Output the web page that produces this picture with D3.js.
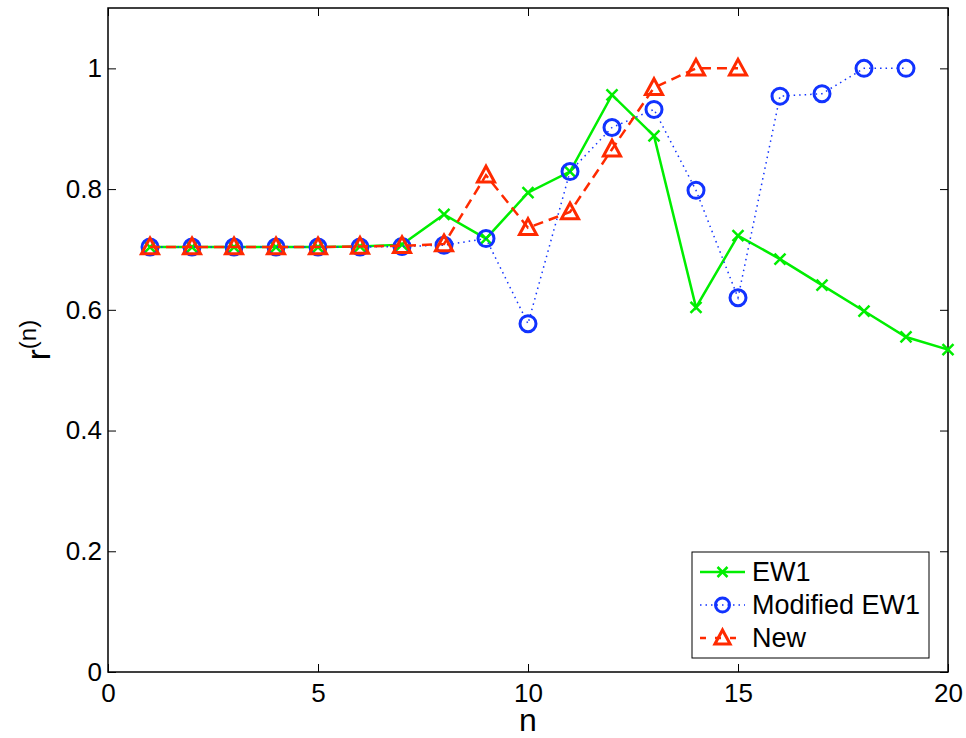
<!DOCTYPE html>
<html>
<head>
<meta charset="utf-8">
<script src="https://cdn.jsdelivr.net/npm/d3@7"></script>
<style>
  body { margin: 0; background: #fff; }
  text { font-family: "Liberation Sans", Arial, Helvetica, sans-serif; fill: #000; }
</style>
</head>
<body>
<svg id="chart" width="966" height="738"></svg>
<script>
// ---- data ----
const nEW1 = [1,2,3,4,5,6,7,8,9,10,11,12,13,14,15,16,17,18,19,20];
const valEW1 = [0.704,0.704,0.704,0.704,0.704,0.705,0.708,0.758,0.718,0.794,0.829,0.956,0.888,0.604,0.723,0.684,0.641,0.598,0.555,0.534];
const nMod = [1,2,3,4,5,6,7,8,9,10,11,12,13,14,15,16,17,18,19];
const valMod = [0.704,0.704,0.704,0.704,0.704,0.704,0.705,0.707,0.718,0.577,0.829,0.902,0.932,0.798,0.620,0.954,0.958,1.0,1.0];
const nNew = [1,2,3,4,5,6,7,8,9,10,11,12,13,14,15];
const valNew = [0.704,0.704,0.704,0.704,0.704,0.705,0.706,0.709,0.823,0.736,0.762,0.866,0.968,1.0,1.0];
const seriesNames = ["EW1", "Modified EW1", "New"];
const xTicks = [0,5,10,15,20];
const yTicks = [0,0.2,0.4,0.6,0.8,1];
const xLabel = "n";

// ---- layout ----
const svg = d3.select("#chart");
const L = 108, R = 948, T = 8, B = 672;
const x = d3.scaleLinear().domain([0,20]).range([L,R]);
const y = d3.scaleLinear().domain([0,1.1]).range([B,T]);

svg.append("rect").attr("width",966).attr("height",738).attr("fill","#fff");

const colors = {EW1:"#00ee00", Mod:"#1133ff", New:"#ff2a00"};

// axes (MATLAB-style inward ticks, box)
const tickLen = 8;
const fmtY = d => d === 0 ? "0" : (d === 1 ? "1" : d3.format(".1f")(d));
svg.append("g").attr("transform",`translate(0,${B})`)
  .call(d3.axisBottom(x).tickValues(xTicks).tickSize(-tickLen).tickPadding(12).tickFormat(d3.format("d")))
  .call(g => { g.select(".domain").remove(); g.selectAll("line").attr("stroke","#000"); g.selectAll("text").attr("font-size",26).attr("font-family","Liberation Sans, Arial, sans-serif"); });
svg.append("g").attr("transform",`translate(0,${T})`)
  .call(d3.axisTop(x).tickValues(xTicks).tickSize(-tickLen).tickFormat(""))
  .call(g => { g.select(".domain").remove(); g.selectAll("line").attr("stroke","#000"); });
svg.append("g").attr("transform",`translate(${L},0)`)
  .call(d3.axisLeft(y).tickValues(yTicks).tickSize(-tickLen).tickPadding(6).tickFormat(fmtY))
  .call(g => { g.select(".domain").remove(); g.selectAll("line").attr("stroke","#000"); g.selectAll("text").attr("font-size",26).attr("font-family","Liberation Sans, Arial, sans-serif"); });
svg.append("g").attr("transform",`translate(${R},0)`)
  .call(d3.axisRight(y).tickValues(yTicks).tickSize(-tickLen).tickFormat(""))
  .call(g => { g.select(".domain").remove(); g.selectAll("line").attr("stroke","#000"); });
svg.append("rect").attr("x",L).attr("y",T).attr("width",R-L).attr("height",B-T)
  .attr("fill","none").attr("stroke","#000").attr("stroke-width",1.5);

// axis labels
svg.append("text").attr("x",(L+R)/2).attr("y",731).attr("text-anchor","middle")
  .attr("font-size",32).text(xLabel);
const yl = svg.append("text").attr("transform","translate(50,340) rotate(-90)").attr("text-anchor","middle").attr("font-size",33);
yl.append("tspan").text("r");
yl.append("tspan").attr("font-size",24).attr("dy",-14).text("(n)");

// ---- series ----
const line = d3.line().x(d => x(d[0])).y(d => y(d[1]));
const dEW1 = nEW1.map((n,i)=>[n,valEW1[i]]);
const dMod = nMod.map((n,i)=>[n,valMod[i]]);
const dNew = nNew.map((n,i)=>[n,valNew[i]]);

function drawX(g, cx, cy, s, col) {
  g.append("path").attr("d",`M${cx-s},${cy-s}L${cx+s},${cy+s}M${cx-s},${cy+s}L${cx+s},${cy-s}`)
    .attr("stroke",col).attr("stroke-width",2.5).attr("fill","none");
}
function drawCircle(g, cx, cy, r, col) {
  g.append("circle").attr("cx",cx).attr("cy",cy).attr("r",r)
    .attr("stroke",col).attr("stroke-width",3).attr("fill","none");
}
function drawTri(g, cx, cy, s, col) {
  g.append("path").attr("d",`M${cx},${cy-s}L${cx+s*0.95},${cy+s*0.75}L${cx-s*0.95},${cy+s*0.75}Z`)
    .attr("stroke",col).attr("stroke-width",3).attr("fill","none").attr("stroke-linejoin","miter");
}

const gEW1 = svg.append("g"), gMod = svg.append("g"), gNew = svg.append("g");
gEW1.append("path").datum(dEW1).attr("d",line).attr("fill","none").attr("stroke",colors.EW1).attr("stroke-width",2.5);
gMod.append("path").datum(dMod).attr("d",line).attr("fill","none").attr("stroke",colors.Mod).attr("stroke-width",1.5).attr("stroke-dasharray","1.5,4");
gNew.append("path").datum(dNew).attr("d",line).attr("fill","none").attr("stroke",colors.New).attr("stroke-width",2.5).attr("stroke-dasharray","10,6");

dEW1.forEach(d => drawX(gEW1, x(d[0]), y(d[1]), 5.5, colors.EW1));
dMod.forEach(d => drawCircle(gMod, x(d[0]), y(d[1]), 8, colors.Mod));
dNew.forEach(d => drawTri(gNew, x(d[0]), y(d[1]), 9, colors.New));

// ---- legend ----
const lg = svg.append("g");
lg.append("rect").attr("x",692).attr("y",552).attr("width",237).attr("height",106)
  .attr("fill","#fff").attr("stroke","#000").attr("stroke-width",1);
const rows = [572, 605, 638];
const lx0 = 700, lx1 = 745, lxm = 722.5;
lg.append("line").attr("x1",lx0).attr("x2",lx1).attr("y1",rows[0]).attr("y2",rows[0]).attr("stroke",colors.EW1).attr("stroke-width",2.5);
drawX(lg, lxm, rows[0], 5, colors.EW1);
lg.append("line").attr("x1",lx0).attr("x2",lx1).attr("y1",rows[1]).attr("y2",rows[1]).attr("stroke",colors.Mod).attr("stroke-width",1.5).attr("stroke-dasharray","1.5,4");
drawCircle(lg, lxm, rows[1], 7, colors.Mod);
lg.append("line").attr("x1",lx0).attr("x2",lx1).attr("y1",rows[2]).attr("y2",rows[2]).attr("stroke",colors.New).attr("stroke-width",2.5).attr("stroke-dasharray","6,9");
drawTri(lg, lxm, rows[2], 8, colors.New);
seriesNames.forEach((s,i) => {
  lg.append("text").attr("x",752).attr("y",rows[i]+9).attr("font-size",27).text(s);
});
</script>
</body>
</html>
